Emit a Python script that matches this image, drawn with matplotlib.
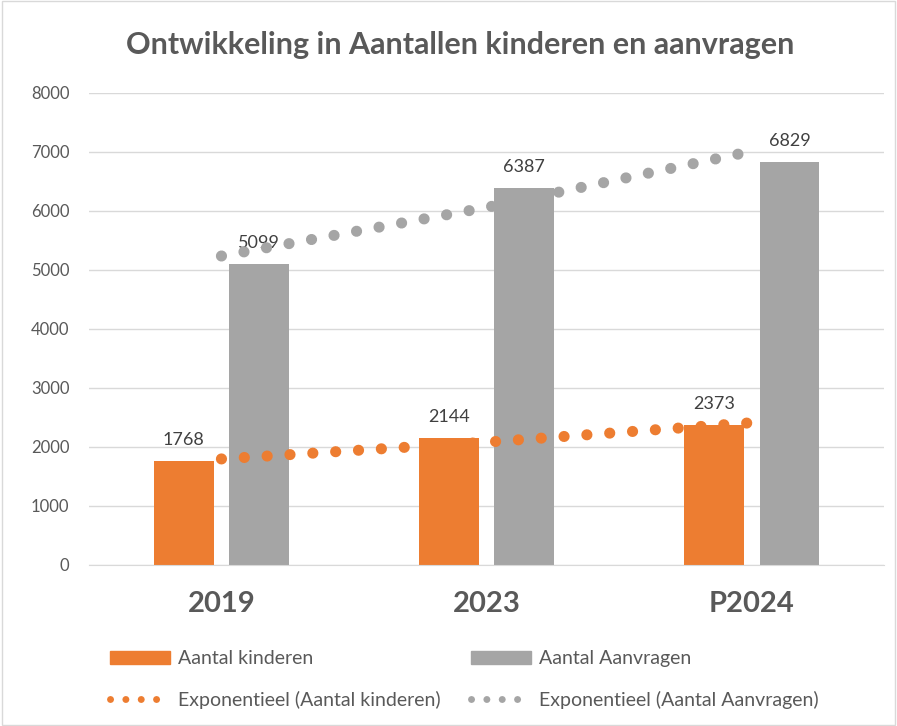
"""Ontwikkeling in aantallen kinderen en aanvragen (staafdiagram met trendlijnen)."""

import matplotlib

matplotlib.use("Agg")
import matplotlib.pyplot as plt
import numpy as np
from matplotlib.lines import Line2D
from matplotlib.patches import Patch, Rectangle

categories = ["2019", "2023", "P2024"]
kinderen = [1768, 2144, 2373]
aanvragen = [5099, 6387, 6829]

ORANGE = "#ED7D31"
GRAY = "#A5A5A5"
TEXT = "#595959"
GRID = "#D9D9D9"

plt.rcParams["font.family"] = ["Lato", "DejaVu Sans"]


def exp_trend(values):
    # exponentiële trendlijn zoals Excel: lineaire fit op ln(y)
    x = np.arange(1, len(values) + 1)
    b, a = np.polyfit(x, np.log(values), 1)
    return np.exp(a + b * x)


fig = plt.figure(figsize=(8.97, 7.26), dpi=100)
ax = fig.add_axes([0.099, 0.222, 0.887, 0.650])

xpos = np.arange(len(categories))
width = 0.226
off = 0.142

b1 = ax.bar(xpos - off, kinderen, width, color=ORANGE, zorder=2)
b2 = ax.bar(xpos + off, aanvragen, width, color=GRAY, zorder=2)

for bars, vals in ((b1, kinderen), (b2, aanvragen)):
    for rect, v in zip(bars, vals):
        ax.annotate(str(v), (rect.get_x() + rect.get_width() / 2, v),
                    xytext=(0, 11.5), textcoords="offset points",
                    ha="center", va="baseline", fontsize=13, color="#404040")

dot_style = dict(linestyle=(0, (0.01, 2.05)), dash_capstyle="round", lw=8, zorder=3)
ax.plot(xpos, exp_trend(kinderen), color=ORANGE, **dot_style)
ax.plot(xpos, exp_trend(aanvragen), color=GRAY, **dot_style)

ax.set_xlim(-0.5, len(categories) - 0.5)
ax.set_ylim(0, 8000)
ax.set_yticks(np.arange(0, 8001, 1000))
ax.set_xticks(xpos)
ax.set_xticklabels(categories, fontsize=21, fontweight="bold", color=TEXT)
ax.tick_params(axis="x", length=0, pad=19)
ax.tick_params(axis="y", length=0, pad=14, labelsize=12, labelcolor=TEXT)
ax.yaxis.grid(True, color=GRID, lw=1, zorder=0)
for side in ("top", "right", "left"):
    ax.spines[side].set_visible(False)
ax.spines["bottom"].set_color(GRID)
ax.set_axisbelow(True)

fig.text(0.513, 0.938, "Ontwikkeling in Aantallen kinderen en aanvragen",
         ha="center", va="center", fontsize=22, fontweight="bold", color=TEXT)

handles = [
    Patch(color=ORANGE),
    Line2D([], [], color=ORANGE, linestyle=(0, (0.01, 2.2)), dash_capstyle="round", lw=5),
    Patch(color=GRAY),
    Line2D([], [], color=GRAY, linestyle=(0, (0.01, 2.2)), dash_capstyle="round", lw=5),
]
labels = [
    "Aantal kinderen",
    "Exponentieel (Aantal kinderen)",
    "Aantal Aanvragen",
    "Exponentieel (Aantal Aanvragen)",
]
fig.legend(handles, labels, loc="upper left", bbox_to_anchor=(0.1226, 0.104),
           ncol=2, frameon=False, fontsize=14, labelcolor=TEXT,
           handlelength=3.1, handletextpad=0.4, columnspacing=1.55, labelspacing=1.2,
           borderaxespad=0, borderpad=0)

fig.add_artist(Rectangle((0.002, 0.002), 0.996, 0.996, transform=fig.transFigure,
                         fill=False, edgecolor=GRID, lw=1))

fig.savefig("out.png", dpi=100)
